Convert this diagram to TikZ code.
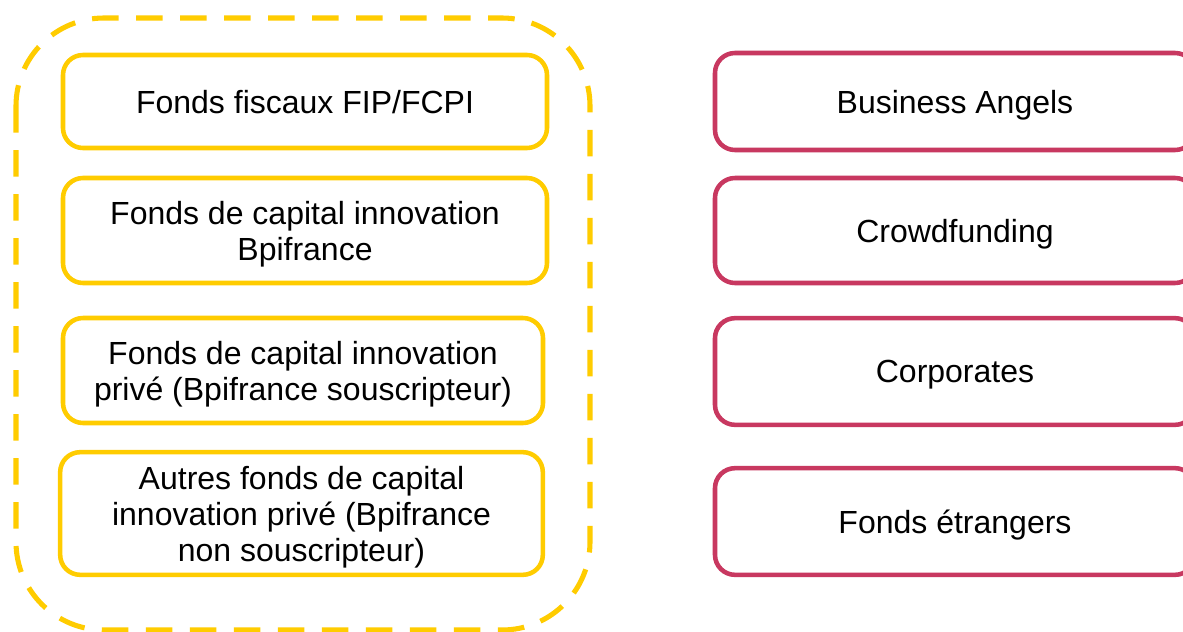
\documentclass[tikz,border=0pt]{standalone}
\usepackage{fontspec}
\setmainfont{Liberation Sans}
\usetikzlibrary{positioning}
\colorlet{background}{white}
\definecolor{penYellow}{RGB}{255,204,0}
\definecolor{penRose}{RGB}{200,56,96}
\tikzset{
  fondsbox/.style={draw=penYellow, line width=3.4pt, rounded corners=15pt,
    align=center, font=\fontsize{24}{27}\selectfont, inner sep=0pt, text depth=-2.5pt},
  autrebox/.style={draw=penRose, line width=3.4pt, rounded corners=15pt,
    align=center, font=\fontsize{24}{27}\selectfont, inner sep=0pt, text depth=-2.5pt,
    minimum width=360pt}
}

\begin{document}
\begin{tikzpicture}[x=0.75pt, y=-0.75pt]
\clip (0,0) rectangle (1183,632);
\fill[background] (0,0) rectangle (1183,632);
% groupe Bpifrance
\draw[penYellow, line width=3.8pt, dash pattern=on 20pt off 13pt, rounded corners=66pt]
  (16,18) rectangle (590,630);
\node[fondsbox, minimum width=363pt, minimum height=69.75pt] (fiscaux) at (305,101.5) {Fonds fiscaux FIP/FCPI};
\node[fondsbox, minimum width=363pt, minimum height=78.75pt] (bpi) at (305,230.5) {Fonds de capital innovation\\Bpifrance};
\node[fondsbox, minimum width=360pt, minimum height=78.75pt] (prive) at (303,370.5) {Fonds de capital innovation\\priv\'e (Bpifrance souscripteur)};
\node[fondsbox, minimum width=362pt, minimum height=92pt] (autres) at (301.5,513.5) {Autres fonds de capital\\innovation priv\'e (Bpifrance\\non souscripteur)};
% autres investisseurs
\node[autrebox, minimum height=72.75pt] (angels) at (955,101.5) {Business Angels};
\node[autrebox, minimum height=78.75pt] (crowd) at (955,230.5) {Crowdfunding};
\node[autrebox, minimum height=80pt] (corpo) at (955,371.5) {Corporates};
\node[autrebox, minimum height=80pt] (etrangers) at (955,521.5) {Fonds \'etrangers};
\end{tikzpicture}
\end{document}
